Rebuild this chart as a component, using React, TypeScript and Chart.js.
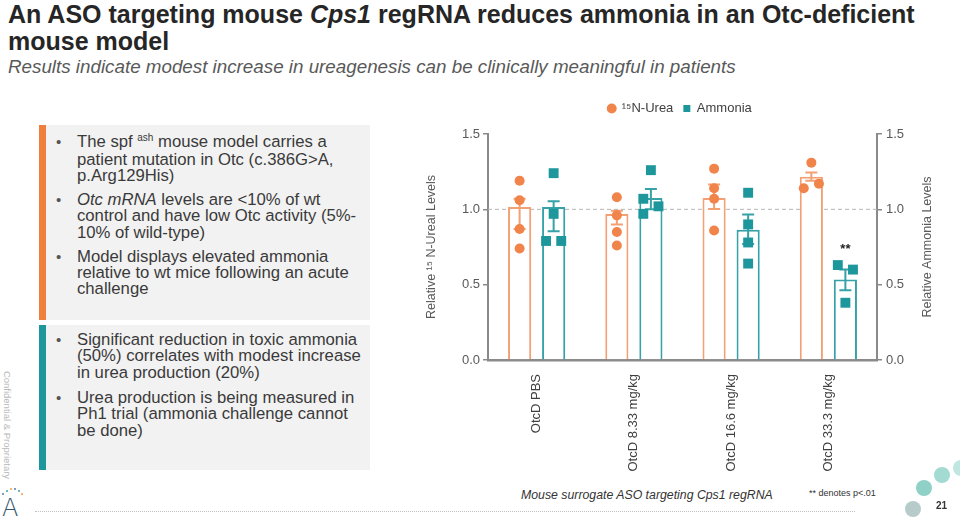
import React, { useEffect, useRef } from 'react';
import { Chart, registerables } from 'chart.js';

Chart.register(...registerables);

// ---------- data ----------
const categories = ['OtcD PBS', 'OtcD 8.33 mg/kg', 'OtcD 16.6 mg/kg', 'OtcD 33.3 mg/kg'];
const ureaMeans = [1.016, 0.969, 1.076, 1.217];
const ammoniaMeans = [1.016, 1.076, 0.865, 0.534];
const ureaErrLow = [0.87, 0.9, 1.003, 1.19];
const ureaErrHigh = [1.07, 0.99, 1.164, 1.245];
const ammoniaErrLow = [0.854, 1.0, 0.77, 0.463];
const ammoniaErrHigh = [1.053, 1.135, 0.965, 0.6];
const ureaPoints = [
  [1.19, 1.06, 0.87, 0.74],
  [1.08, 0.96, 0.85, 0.76],
  [1.27, 1.14, 1.07, 0.86],
  [1.31, 1.14, 1.17],
];
const ureaJitter = [
  [0, 0, 0, 0],
  [0, 0, 0, 0],
  [0, 0, 0, 0],
  [0, -1, 1],
];
const ammoniaPoints = [
  [1.24, 0.97, 0.79, 0.79],
  [1.26, 1.07, 1.02, 0.97],
  [1.11, 0.9, 0.78, 0.64],
  [0.63, 0.6, 0.38],
];
const ammoniaJitter = [
  [0, 0, -1, 1],
  [0, -1, 1, -1],
  [0, 0, 0, 0],
  [-1, 1, 0],
];
const ammoniaSig = ['', '', '', '**'];
const yTicks = [0, 0.5, 1.0, 1.5];
const referenceLevel = 1.0;
const legendLabels = ['\u00B9\u2075N-Urea', 'Ammonia'];
const leftTitle = 'Relative \u00B9\u2075 N-Ureal Levels';
const rightTitle = 'Relative Ammonia Levels';

// ---------- style ----------
const SANS = '"Liberation Sans", Arial, Helvetica, sans-serif';
const ORANGE = '#F0844A';
const ORANGE_BAR = '#F2A074';
const TEAL = '#1E979C';
const TEAL_BAR = '#36A2A7';
const AXIS = '#8a8a8a';
const TICK_TXT = '#595959';

const SIDE = 0.175;
const JIT = 0.078;

function buildPoints(points: number[][], jitter: number[][], side: number) {
  const out: { x: number; y: number }[] = [];
  points.forEach((grp, i) =>
    grp.forEach((v, k) => out.push({ x: i + side * SIDE + jitter[i][k] * JIT, y: v }))
  );
  return out;
}

const legendSpacer = {
  id: 'legendSpacer',
  beforeInit(chart: any) {
    const legend = chart.legend;
    if (!legend) return;
    const orig = legend.fit;
    legend.fit = function () {
      orig.call(this);
      this.height += 9;
    };
  },
};

const overlay = {
  id: 'overlay',
  beforeDatasetsDraw(chart: any) {
    const { ctx, chartArea } = chart;
    const y = chart.scales.y.getPixelForValue(referenceLevel);
    ctx.save();
    ctx.strokeStyle = '#b5b5b5';
    ctx.lineWidth = 1;
    ctx.setLineDash([4, 3]);
    ctx.beginPath();
    ctx.moveTo(chartArea.left, y);
    ctx.lineTo(chartArea.right, y);
    ctx.stroke();
    ctx.restore();
  },
  afterDatasetDraw(chart: any, args: any) {
    const ds = chart.data.datasets[args.index];
    if (!ds.errLow) return;
    const meta = args.meta;
    const scale = chart.scales[ds.yAxisID];
    const { ctx } = chart;
    ctx.save();
    ctx.strokeStyle = ds.borderColor;
    ctx.lineWidth = 2;
    meta.data.forEach((bar: any, j: number) => {
      const x = bar.x;
      const yl = scale.getPixelForValue(ds.errLow[j]);
      const yh = scale.getPixelForValue(ds.errHigh[j]);
      ctx.beginPath();
      ctx.moveTo(x, yl);
      ctx.lineTo(x, yh);
      ctx.moveTo(x - 6, yl);
      ctx.lineTo(x + 6, yl);
      ctx.moveTo(x - 6, yh);
      ctx.lineTo(x + 6, yh);
      ctx.stroke();
    });
    ctx.restore();
  },
  afterDraw(chart: any) {
    const { ctx, chartArea } = chart;
    const ds = chart.data.datasets[3];
    const meta = chart.getDatasetMeta(3);
    const scale = chart.scales.y2;
    ctx.save();
    ctx.fillStyle = '#222';
    ctx.font = `bold 13px ${SANS}`;
    ctx.textAlign = 'center';
    ctx.textBaseline = 'middle';
    ammoniaSig.forEach((s, j) => {
      if (!s) return;
      const x = meta.data[j].x;
      const y = scale.getPixelForValue(ds.errHigh[j]) - 20;
      ctx.fillText(s, x, y);
    });
    ctx.translate(chart.width - 32, (chartArea.top + chartArea.bottom) / 2);
    ctx.rotate(-Math.PI / 2);
    ctx.font = `12.5px ${SANS}`;
    ctx.fillStyle = TICK_TXT;
    ctx.fillText(rightTitle, 0, 0);
    ctx.restore();
  },
};

function yAxis(position: 'left' | 'right', width: number, title: string | null) {
  return {
    type: 'linear',
    position,
    min: 0,
    max: 1.5,
    afterBuildTicks: (s: any) => {
      s.ticks = yTicks.map((v) => ({ value: v }));
    },
    afterFit: (s: any) => {
      s.width = width;
    },
    ticks: {
      padding: position === 'left' ? 3 : 4,
      color: TICK_TXT,
      font: { family: SANS, size: 13 },
      callback: (v: any) => Number(v).toFixed(1),
    },
    grid: { drawOnChartArea: false, drawTicks: true, tickLength: 5, color: AXIS, lineWidth: 1.5 },
    border: { display: true, color: AXIS, width: 2 },
    title: title
      ? {
          display: true,
          text: title,
          color: TICK_TXT,
          font: { family: SANS, size: 12.5 },
          padding: { top: 24, bottom: 0 },
        }
      : { display: false },
  };
}

function ChartPanel() {
  const ref = useRef<HTMLCanvasElement>(null);
  useEffect(() => {
    if (!ref.current) return;
    const chart = new Chart(ref.current, {
      type: 'bar',
      data: {
        datasets: [
          {
            type: 'scatter',
            label: legendLabels[0],
            data: buildPoints(ureaPoints, ureaJitter, -1),
            xAxisID: 'x',
            yAxisID: 'y',
            pointStyle: 'circle',
            pointRadius: 5,
            backgroundColor: ORANGE,
            borderColor: ORANGE,
            borderWidth: 0,
            order: 1,
          },
          {
            type: 'scatter',
            label: legendLabels[1],
            data: buildPoints(ammoniaPoints, ammoniaJitter, 1),
            xAxisID: 'x',
            yAxisID: 'y2',
            pointStyle: 'rect',
            pointRadius: 7,
            backgroundColor: TEAL,
            borderColor: TEAL,
            borderWidth: 0,
            order: 1,
          },
          {
            type: 'bar',
            label: 'urea-mean',
            data: ureaMeans.map((v, i) => ({ x: i, y: v })),
            xAxisID: 'x',
            yAxisID: 'y',
            backgroundColor: '#ffffff',
            borderColor: ORANGE_BAR,
            borderWidth: 2,
            categoryPercentage: 0.7,
            barPercentage: 0.68,
            order: 2,
            errLow: ureaErrLow,
            errHigh: ureaErrHigh,
          },
          {
            type: 'bar',
            label: 'ammonia-mean',
            data: ammoniaMeans.map((v, i) => ({ x: i, y: v })),
            xAxisID: 'x',
            yAxisID: 'y2',
            backgroundColor: '#ffffff',
            borderColor: TEAL_BAR,
            borderWidth: 2,
            categoryPercentage: 0.7,
            barPercentage: 0.68,
            order: 2,
            errLow: ammoniaErrLow,
            errHigh: ammoniaErrHigh,
          },
        ] as any,
      },
      options: {
        responsive: false,
        maintainAspectRatio: false,
        devicePixelRatio: 1,
        animation: false,
        events: [],
        layout: { padding: { top: 2, left: 0, right: 0, bottom: 0 } },
        plugins: {
          tooltip: { enabled: false },
          legend: {
            display: true,
            position: 'top',
            align: 'center',
            labels: {
              usePointStyle: true,
              boxWidth: 7,
              boxHeight: 7,
              padding: 10,
              color: '#404040',
              font: { family: SANS, size: 13 },
              filter: (item: any) => item.datasetIndex < 2,
            },
          },
        },
        scales: {
          x: {
            type: 'linear',
            min: -0.5,
            max: 3.5,
            offset: false,
            grid: { display: false, offset: false },
            border: { display: true, color: AXIS, width: 2.5 },
            afterBuildTicks: (s: any) => {
              s.ticks = categories.map((_, i) => ({ value: i }));
            },
            ticks: {
              autoSkip: false,
              minRotation: 90,
              maxRotation: 90,
              padding: 6,
              color: '#404040',
              font: { family: SANS, size: 13 },
              callback: (_v: any, i: number) => categories[i],
            },
            afterFit: (s: any) => {
              s.height = 120;
            },
          },
          y: yAxis('left', 88, leftTitle),
          y2: yAxis('right', 83, null),
        } as any,
      },
      plugins: [legendSpacer, overlay],
    } as any);
    return () => chart.destroy();
  }, []);
  return <canvas ref={ref} width={560} height={390} style={{ width: 560, height: 390, display: 'block' }} />;
}

function Bullet({ top, lines }: { top: number; lines: React.ReactNode[] }) {
  return (
    <div style={{ position: 'absolute', left: 56, top, width: 312 }}>
      <span style={{ position: 'absolute', left: 0, top: 0, fontSize: 15, lineHeight: '16.4px', color: '#555' }}>•</span>
      <div
        style={{
          position: 'absolute',
          left: 21,
          top: 0,
          whiteSpace: 'nowrap',
          fontSize: 16.7,
          lineHeight: '16.4px',
          color: '#3a3a3a',
        }}
      >
        {lines.map((l, i) => (
          <div key={i}>{l}</div>
        ))}
      </div>
    </div>
  );
}

function Dot({ x, y, r, c }: { x: number; y: number; r: number; c: string }) {
  return (
    <div
      style={{
        position: 'absolute',
        left: x - r,
        top: y - r,
        width: r * 2,
        height: r * 2,
        borderRadius: '50%',
        background: c,
      }}
    />
  );
}

export default function App() {
  return (
    <div
      style={{
        position: 'fixed',
        left: 0,
        top: 0,
        width: 960,
        height: 521,
        background: '#ffffff',
        overflow: 'hidden',
        fontFamily: SANS,
      }}
    >
      <div
        style={{
          position: 'absolute',
          left: 8,
          top: 1,
          fontSize: 25,
          lineHeight: '27px',
          fontWeight: 'bold',
          color: '#262626',
          whiteSpace: 'nowrap',
        }}
      >
        An ASO targeting mouse <i>Cps1</i> regRNA reduces ammonia in an Otc-deficient
        <br />
        mouse model
      </div>
      <div
        style={{
          position: 'absolute',
          left: 8,
          top: 57,
          fontSize: 18.8,
          lineHeight: '20px',
          fontStyle: 'italic',
          color: '#595959',
          whiteSpace: 'nowrap',
        }}
      >
        Results indicate modest increase in ureagenesis can be clinically meaningful in patients
      </div>

      <div style={{ position: 'absolute', left: 39, top: 125, width: 331, height: 195, background: '#F2F2F2' }} />
      <div style={{ position: 'absolute', left: 39, top: 125, width: 7, height: 195, background: '#EF7F3C' }} />
      <div style={{ position: 'absolute', left: 39, top: 325, width: 331, height: 145, background: '#F2F2F2' }} />
      <div style={{ position: 'absolute', left: 39, top: 325, width: 7, height: 145, background: '#1E979C' }} />

      <Bullet
        top={133.5}
        lines={[
          <>
            The spf{' '}
            <span style={{ fontSize: 10, position: 'relative', top: -6 }}>ash</span> mouse model carries a
          </>,
          'patient mutation in Otc (c.386G>A,',
          'p.Arg129His)',
        ]}
      />
      <Bullet
        top={191.8}
        lines={[
          <>
            <i>Otc mRNA</i> levels are &lt;10% of wt
          </>,
          'control and have low Otc activity (5%-',
          '10% of wild-type)',
        ]}
      />
      <Bullet
        top={248.5}
        lines={['Model displays elevated ammonia', 'relative to wt mice following an acute', 'challenge']}
      />
      <Bullet
        top={331.8}
        lines={['Significant reduction in toxic ammonia', '(50%) correlates with modest increase', 'in urea production (20%)']}
      />
      <Bullet
        top={390}
        lines={['Urea production is being measured in', 'Ph1 trial (ammonia challenge cannot', 'be done)']}
      />

      <div
        style={{
          position: 'absolute',
          left: 7,
          top: 425,
          transform: 'translate(-50%, -50%) rotate(90deg)',
          fontSize: 9.5,
          color: '#b8b8b8',
          whiteSpace: 'nowrap',
        }}
      >
        Confidential &amp; Proprietary
      </div>

      <div
        style={{
          position: 'absolute',
          left: 2,
          top: 496,
          fontSize: 24,
          lineHeight: '24px',
          fontWeight: 300,
          color: '#34566f',
          fontFamily: '"DejaVu Sans", sans-serif',
        }}
      >
        A
      </div>
      <Dot x={3} y={494} r={1.2} c="#4a7fb0" />
      <Dot x={7} y={491} r={1.2} c="#3aa0a8" />
      <Dot x={11} y={489} r={1.2} c="#f0a040" />
      <Dot x={15} y={489} r={1.2} c="#4a7fb0" />
      <Dot x={19} y={491} r={1.2} c="#3aa0a8" />
      <Dot x={22} y={494} r={1.2} c="#f0a040" />

      <div style={{ position: 'absolute', left: 400, top: 90, width: 560, height: 390 }}>
        <ChartPanel />
      </div>

      <div
        style={{
          position: 'absolute',
          left: 521,
          top: 487,
          fontSize: 12.3,
          lineHeight: '16px',
          fontStyle: 'italic',
          color: '#333',
          whiteSpace: 'nowrap',
        }}
      >
        Mouse surrogate ASO targeting Cps1 regRNA
      </div>
      <div
        style={{
          position: 'absolute',
          left: 809,
          top: 487,
          fontSize: 9,
          lineHeight: '12px',
          color: '#333',
          whiteSpace: 'nowrap',
        }}
      >
        ** denotes p&lt;.01
      </div>
      <div
        style={{
          position: 'absolute',
          left: 35,
          top: 511,
          width: 820,
          height: 0,
          borderTop: '1px dotted #c0c0c0',
        }}
      />
      <div
        style={{
          position: 'absolute',
          left: 936,
          top: 500,
          fontSize: 10,
          lineHeight: '12px',
          fontWeight: 'bold',
          color: '#333',
        }}
      >
        21
      </div>
      <Dot x={913} y={509} r={8} c="#b7cbca" />
      <Dot x={924} y={488} r={8} c="#8fd0c7" />
      <Dot x={942} y={475} r={8} c="#a3dad2" />
      <Dot x={961} y={468} r={8} c="#bfe6e0" />
    </div>
  );
}
